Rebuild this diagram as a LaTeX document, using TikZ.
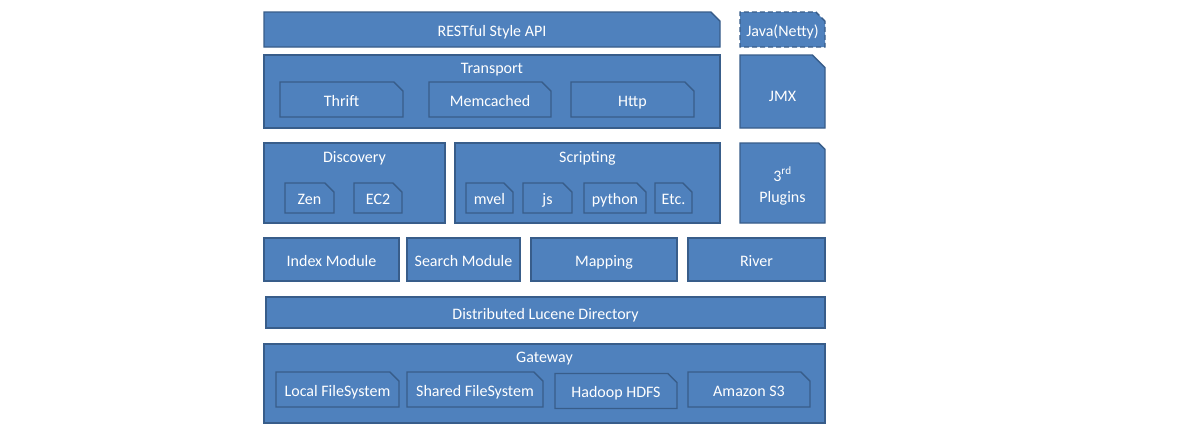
\documentclass[tikz,border=0pt]{standalone}
\usepackage{fontspec}
\setmainfont{Carlito}
\usetikzlibrary{shapes.misc,positioning}
\definecolor{esfill}{RGB}{79,129,189}
\definecolor{esline}{RGB}{56,93,138}

\begin{document}
\begin{tikzpicture}[x=1pt, y=-1pt,
    box/.style={draw=esline, fill=esfill, line width=1.4pt, text=white,
                font=\fontsize{16}{19}\selectfont, inner sep=0pt,
                text height=13pt, text depth=0pt},
    snip/.style={box, chamfered rectangle, chamfered rectangle corners=north east,
                 chamfered rectangle xsep=6pt, chamfered rectangle angle=45},
    ttl/.style={text=white, font=\fontsize{16}{19}\selectfont, inner sep=0pt}]
        \fill[white] (0,0) rectangle (1182,439);
        \useasboundingbox (0,0) rectangle (1182,439);

        % --- Capa superior: API y Java ---
        \node[snip, minimum width=456pt, minimum height=35pt] (Rest) at (492,29.5) {RESTful Style API};
        \node[snip, dashed, dash pattern=on 5pt off 3pt, minimum width=85pt, minimum height=35pt] (Java) at (782.5,29.5) {Java(Netty)};

        % --- Transport ---
        \node[box, minimum width=456pt, minimum height=73pt] (Transport) at (492,91.5) {};
        \node[ttl, below=9pt of Transport.north] (TransportT) {Transport};
        \node[snip, minimum width=123pt, minimum height=35pt] (Thrift) at (341.5,99.5) {Thrift};
        \node[snip, minimum width=122pt, minimum height=35pt] (Memcached) at (490,99.5) {Memcached};
        \node[snip, minimum width=123pt, minimum height=35pt] (Http) at (632.5,99.5) {Http};
        \node[snip, chamfered rectangle xsep=10pt, text height=19pt, minimum width=85pt, minimum height=73pt] (Jmx) at (782.5,91.5) {JMX};

        % --- Discovery y Scripting ---
        \node[box, minimum width=181pt, minimum height=80pt] (Discovery) at (354.5,183) {};
        \node[ttl, below=9pt of Discovery.north] (DiscoveryT) {Discovery};
        \node[snip, minimum width=49pt, minimum height=30pt] (Zen) at (309.5,198) {Zen};
        \node[snip, minimum width=48pt, minimum height=30pt] (Ec2) at (378,198) {EC2};
        \node[box, minimum width=265pt, minimum height=80pt] (Scripting) at (587.5,183) {};
        \node[ttl, below=9pt of Scripting.north] (ScriptingT) {Scripting};
        \node[snip, minimum width=47pt, minimum height=30pt] (Mvel) at (489.5,198) {mvel};
        \node[snip, minimum width=49pt, minimum height=30pt] (Js) at (547.5,198) {js};
        \node[snip, minimum width=62pt, minimum height=30pt] (Python) at (615,198) {python};
        \node[snip, minimum width=37pt, minimum height=30pt] (Etc) at (673.5,198) {Etc.};
        \node[snip, chamfered rectangle xsep=10pt, minimum width=85pt, minimum height=80pt] (Plugins) at (782.5,183) {};
        \node[ttl, align=center, font=\fontsize{16}{21}\selectfont, yshift=-3pt] (PluginsT) at (Plugins.center) {3\textsuperscript{rd}\\Plugins};

        % --- Modulos ---
        \node[box, minimum width=135pt, minimum height=43pt] (Index) at (331.5,259.5) {Index Module};
        \node[box, minimum width=113pt, minimum height=43pt] (Search) at (463.5,259.5) {Search Module};
        \node[box, minimum width=146pt, minimum height=43pt] (Mapping) at (604,259.5) {Mapping};
        \node[box, minimum width=137pt, minimum height=43pt] (River) at (756.5,259.5) {River};

        % --- Lucene ---
        \node[box, minimum width=559pt, minimum height=31pt] (Lucene) at (545.5,312.5) {Distributed Lucene Directory};

        % --- Gateway ---
        \node[box, minimum width=561pt, minimum height=79pt] (Gateway) at (544.5,383.5) {};
        \node[ttl, below=9pt of Gateway.north] (GatewayT) {Gateway};
        \node[snip, minimum width=123pt, minimum height=35pt] (LocalFs) at (337.5,389.5) {Local FileSystem};
        \node[snip, minimum width=136pt, minimum height=35pt] (SharedFs) at (475,389.5) {Shared FileSystem};
        \node[snip, minimum width=122pt, minimum height=35pt] (Hdfs) at (616,391) {Hadoop HDFS};
        \node[snip, minimum width=122pt, minimum height=35pt] (S3) at (749,389.5) {Amazon S3};

    \end{tikzpicture}
\end{document}
